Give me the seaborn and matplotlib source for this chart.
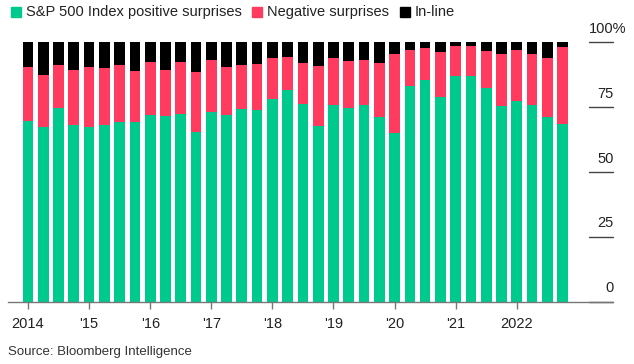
import numpy as np
import pandas as pd
import seaborn as sns
import matplotlib.pyplot as plt
from matplotlib.patches import Rectangle

# ---- data (percent of S&P 500 companies), quarterly 2014Q1 .. 2022Q4 ----
quarters = [f"{y}Q{q}" for y in range(2014, 2023) for q in range(1, 5)]
positive = [69.8, 67.2, 74.8, 68.0, 67.5, 68.2, 69.4, 69.4, 72.1, 71.7, 72.5, 65.5,
            73.2, 72.1, 74.4, 74.0, 78.3, 81.5, 76.3, 67.7, 75.9, 74.5, 75.9, 71.1,
            65.2, 83.3, 85.3, 78.8, 87.1, 87.1, 82.3, 75.6, 77.5, 75.9, 71.1, 68.6]
negative = [20.8, 20.2, 16.5, 21.3, 23.1, 21.9, 21.9, 19.7, 20.3, 17.6, 19.9, 23.1,
            20.0, 18.4, 16.9, 17.6, 15.6, 12.8, 15.7, 23.2, 18.0, 18.3, 17.3, 20.9,
            30.3, 13.7, 12.5, 17.5, 11.5, 11.5, 14.3, 19.9, 19.5, 19.6, 22.8, 29.6]
inline = [9.4, 12.6, 8.7, 10.7, 9.4, 9.9, 8.7, 10.9, 7.6, 10.7, 7.6, 11.4,
          6.8, 9.5, 8.7, 8.4, 6.1, 5.7, 8.0, 9.1, 6.1, 7.2, 6.8, 8.0,
          4.5, 3.0, 2.2, 3.7, 1.4, 1.4, 3.4, 4.5, 3.0, 4.5, 6.1, 1.8]
series_names = ["S&P 500 Index positive surprises", "Negative surprises", "In-line"]
year_labels = ["2014", "'15", "'16", "'17", "'18", "'19", "'20", "'21", "2022"]
y_ticks = [0, 25, 50, 75, 100]
y_tick_labels = ["0", "25", "50", "75", "100%"]

GREEN = "#00c98e"
RED = "#ff3c5f"
BLACK = "#000000"
colors = [GREEN, RED, BLACK]

df = pd.DataFrame({"quarter": quarters, "pos": positive, "neg": negative, "inl": inline})
df["top_neg"] = df["pos"] + df["neg"]
df["top_inl"] = df["top_neg"] + df["inl"]

sns.set_theme(style="white")
plt.rcParams["font.family"] = ["Liberation Sans", "DejaVu Sans"]

W, H = 634, 364
fig = plt.figure(figsize=(W / 100, H / 100), dpi=100)
x0, x1 = 8, 613
y0, y1 = 301.7, 42.3
ax = fig.add_axes([x0 / W, 1 - y0 / H, (x1 - x0) / W, (y0 - y1) / H])

for col, c in zip(["top_inl", "top_neg", "pos"], [BLACK, RED, GREEN]):
    sns.barplot(data=df, x="quarter", y=col, order=quarters, color=c,
                width=0.7, saturation=1, ax=ax, linewidth=0)

ax.set_xlim(-1.31, 38.3)
ax.set_ylim(0, 100)
for s in ["top", "right", "left"]:
    ax.spines[s].set_visible(False)
ax.spines["bottom"].set_color("#777777")
ax.spines["bottom"].set_linewidth(1.0)
ax.set_xlabel("")
ax.set_ylabel("")
ax.set_yticks([])

tick_pos = list(range(0, 36, 4))
ax.set_xticks(tick_pos)
ax.set_xticklabels(year_labels, fontsize=10.5, color="#222222")
ax.tick_params(axis="x", direction="out", length=5, width=1, color="#777777",
               pad=6, bottom=True)

# short gridline marks + labels on the right
gx0 = (589 - x0) / (x1 - x0)
for v, lab in zip(y_ticks, y_tick_labels):
    ax.axhline(v, xmin=gx0, xmax=1, color="#444444", linewidth=1.0, clip_on=False)
    if lab.endswith("%"):
        ax.text(38.3 + 13.5 / 15.27 * 0.98, v + 5.2, lab, ha="right", va="center",
                fontsize=10.5, color="#222222", clip_on=False)
    else:
        ax.text(38.3 + 0.05, v + 5.2, lab, ha="right", va="center",
                fontsize=10.5, color="#222222", clip_on=False)

# legend
leg_items = [(11, 26, series_names[0]), (252, 267, series_names[1]), (400, 415, series_names[2])]
for (sx, tx, name), c in zip(leg_items, colors):
    fig.patches.append(Rectangle((sx / W, 1 - 17 / H), 10 / W, 10 / H,
                                 transform=fig.transFigure, color=c, figure=fig))
    fig.text(tx / W, 1 - 12 / H, name, ha="left", va="center", fontsize=10.5,
             color="#222222")

fig.text(8 / W, 1 - 352 / H, "Source: Bloomberg Intelligence", ha="left",
         va="center", fontsize=9.5, color="#333333")

fig.savefig("out.png", dpi=100)
